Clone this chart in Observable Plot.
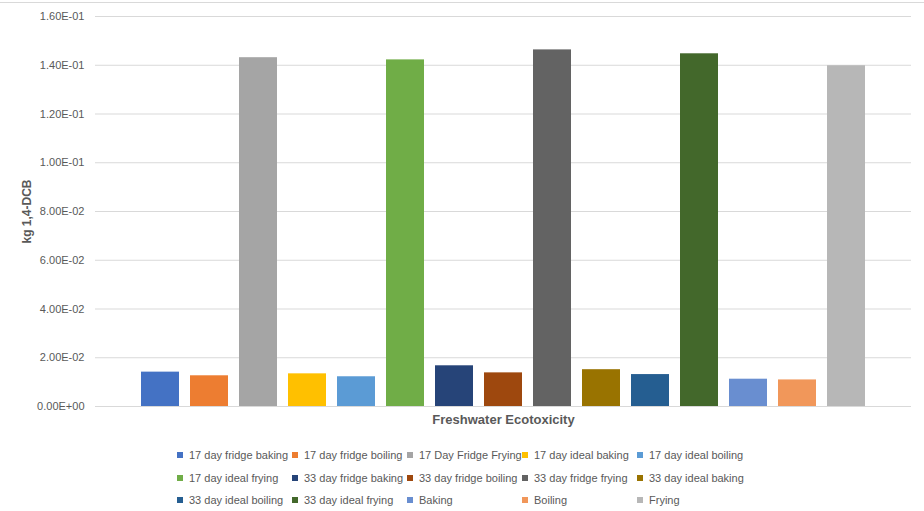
<!DOCTYPE html>
<html>
<head>
<meta charset="utf-8">
<script src="https://cdn.jsdelivr.net/npm/d3@7"></script>
<script src="https://cdn.jsdelivr.net/npm/@observablehq/plot@0.6"></script>
<style>
  body { margin: 0; background: #fff; }
  #chart { position: relative; width: 924px; height: 511px; overflow: hidden; background: #fff; }
  #chart .top-line { position: absolute; top: 2px; left: 0; width: 924px; height: 1px; background: #d9d9d9; }
  .lg-swatches {
    margin: 14px 0 0 177px !important;
    width: 575px;
    min-height: 0 !important;
    font: 11px "Liberation Sans", Arial, sans-serif;
    color: #595959;
  }
  .lg-swatch { width: 115px; height: 22.5px; margin-right: 0 !important; white-space: nowrap; }
  .lg-swatch > svg { margin-right: 6px !important; }
</style>
</head>
<body>
<div id="chart"><div class="top-line"></div></div>
<script>
// Freshwater ecotoxicity per cooking scenario (kg 1,4-DCB)
const series = [
  "17 day fridge baking", "17 day fridge boiling", "17 Day Fridge Frying",
  "17 day ideal baking", "17 day ideal boiling", "17 day ideal frying",
  "33 day fridge baking", "33 day fridge boiling", "33 day fridge frying",
  "33 day ideal baking", "33 day ideal boiling", "33 day ideal frying",
  "Baking", "Boiling", "Frying"
];
const values = [
  0.0141, 0.0126, 0.1431,
  0.0134, 0.0122, 0.1422,
  0.0167, 0.0138, 0.1463,
  0.0151, 0.0131, 0.1447,
  0.0112, 0.0109, 0.1398
];
const colors = [
  "#4472C4", "#ED7D31", "#A5A5A5",
  "#FFC000", "#5B9BD5", "#70AD47",
  "#264478", "#9E480E", "#636363",
  "#997300", "#255E91", "#43682B",
  "#698ED0", "#F1975A", "#B7B7B7"
];
const yTicks = [0, 0.02, 0.04, 0.06, 0.08, 0.10, 0.12, 0.14, 0.16];
const category = "Freshwater Ecotoxicity";
const yTitle = "kg 1,4-DCB";

const data = series.map((s, i) => ({series: s, value: values[i]}));

// Spreadsheet-style scientific notation: 1.60E-01, 0.00E+00
function sci(d) {
  const [m, e] = d.toExponential(2).split("e");
  const sign = e[0] === "-" ? "-" : "+";
  const digits = e.replace(/^[+-]/, "").padStart(2, "0");
  return `${m}E${sign}${digits}`;
}

const chart = Plot.plot({
  width: 924,
  height: 430,
  marginLeft: 95,
  marginRight: 13,
  marginTop: 16,
  marginBottom: 24,
  style: {fontFamily: "'Liberation Sans', Arial, sans-serif", fontSize: "11px", color: "#595959", background: "transparent"},
  x: {domain: series, paddingInner: 0.217, paddingOuter: 0.9, axis: null},
  y: {domain: [0, 0.16], axis: null},
  color: {domain: series, range: colors},
  marks: [
    Plot.gridY(yTicks, {stroke: "#d9d9d9", strokeOpacity: 1}),
    Plot.axisY(yTicks, {tickSize: 0, tickPadding: 11, tickFormat: sci, label: null, fill: "#595959"}),
    Plot.ruleY([0], {stroke: "#d9d9d9"}),
    Plot.barY(data, {x: "series", y: "value", fill: "series"}),
    Plot.text([yTitle], {frameAnchor: "left", dx: -68, rotate: -90, textAnchor: "middle", lineAnchor: "middle",
      fontWeight: "bold", fontSize: 12, fill: "#595959"}),
    Plot.text([category], {frameAnchor: "bottom", dy: 13, textAnchor: "middle", lineAnchor: "middle",
      fontWeight: "bold", fontSize: 13, fill: "#595959"})
  ]
});

const legend = chart.legend("color", {swatchSize: 6, className: "lg"});

const root = document.getElementById("chart");
root.appendChild(chart);
root.appendChild(legend);
</script>
</body>
</html>
